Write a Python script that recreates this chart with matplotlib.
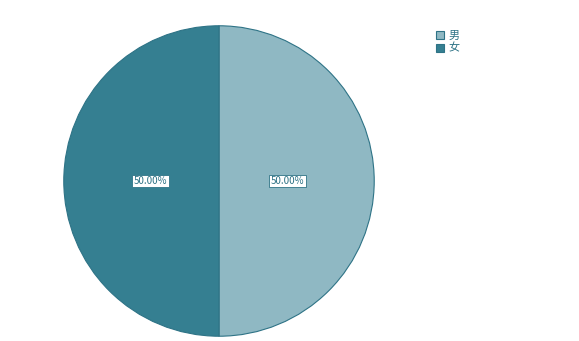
import matplotlib
matplotlib.use("Agg")
import matplotlib.pyplot as plt

plt.rcParams['font.family'] = ['Noto Sans CJK SC', 'DejaVu Sans']

labels = ["男", "女"]
values = [50, 50]
colors = ["#8fb8c3", "#357f91"]
edge = "#2e7386"

fig = plt.figure(figsize=(5.79, 3.41), dpi=100)
ax = fig.add_axes([(219 - 156) / 579, (341 - 337) / 341, 312 / 579, 312 / 341])

wedges, texts, autotexts = ax.pie(
    values, colors=colors, startangle=90, counterclock=False,
    autopct="%.2f%%", pctdistance=0.44,
    wedgeprops=dict(edgecolor=edge, linewidth=0.8),
    textprops=dict(fontsize=7, color=edge),
)
for t in autotexts:
    t.set_bbox(dict(boxstyle="square,pad=0.15", facecolor="white", edgecolor=edge, linewidth=0.6))
ax.set_xlim(-1.005, 1.005)
ax.set_ylim(-1.005, 1.005)
ax.set_aspect("equal")

leg = fig.legend(wedges, labels, loc="upper left", bbox_to_anchor=(430 / 579, 1 - 25 / 341),
                 frameon=False, fontsize=8, handlelength=0.8, handleheight=0.8,
                 handletextpad=0.4, labelspacing=0.25, borderpad=0)
for t in leg.get_texts():
    t.set_color(edge)

fig.savefig("out.png", dpi=100)
